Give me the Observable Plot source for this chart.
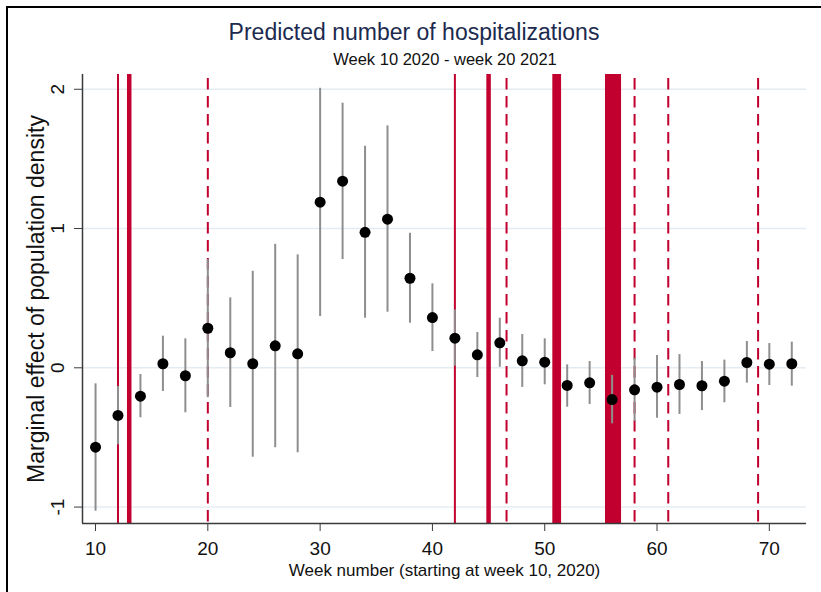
<!DOCTYPE html>
<html>
<head>
<meta charset="utf-8">
<script src="https://cdn.jsdelivr.net/npm/d3@7"></script>
<script src="https://cdn.jsdelivr.net/npm/@observablehq/plot@0.6"></script>
<style>
  html, body { margin: 0; padding: 0; background: #fff; }
  #wrap { position: relative; width: 821px; height: 592px; overflow: hidden; background: #fff;
          font-family: "Liberation Sans", Arial, sans-serif; }
  #border { position: absolute; left: 6px; top: 6px; width: 900px; height: 700px;
            border-left: 2px solid #000; border-top: 2.5px solid #000; box-sizing: border-box; }
  #chart { position: absolute; left: 0; top: 0; }
  .title { position: absolute; white-space: nowrap; line-height: 1; transform: translateX(-50%); }
  #t1 { left: 414px; top: 21px; font-size: 23px; color: #1b2a4e; }
  #t2 { left: 445px; top: 51px; font-size: 16.5px; color: #111; }
</style>
</head>
<body>
<div id="wrap">
  <div id="border"></div>
  <div id="chart"></div>
  <div class="title" id="t1">Predicted number of hospitalizations</div>
  <div class="title" id="t2">Week 10 2020 - week 20 2021</div>
</div>
<script>
// Estimates (week, point estimate, lower CI, upper CI)
const weeks = [10,12,14,16,18,20,22,24,26,28,30,32,34,36,38,40,42,44,46,48,50,52,54,56,58,60,62,64,66,68,70,72];
const estimate = [-0.570,-0.342,-0.204,0.029,-0.057,0.284,0.108,0.029,0.158,0.100,1.189,1.340,0.973,1.067,0.643,0.361,0.213,0.093,0.179,0.050,0.040,-0.127,-0.108,-0.228,-0.158,-0.139,-0.120,-0.129,-0.096,0.038,0.026,0.029];
const lower = [-1.030,-0.553,-0.359,-0.170,-0.323,-0.215,-0.285,-0.642,-0.574,-0.610,0.368,0.777,0.356,0.399,0.320,0.117,0.011,-0.070,0.004,-0.141,-0.122,-0.283,-0.263,-0.402,-0.385,-0.362,-0.335,-0.307,-0.251,-0.110,-0.127,-0.132];
const upper = [-0.115,-0.134,-0.048,0.227,0.208,0.777,0.502,0.693,0.887,0.811,2.007,1.900,1.591,1.737,0.966,0.603,0.416,0.253,0.356,0.239,0.208,0.021,0.045,-0.055,0.069,0.088,0.095,0.045,0.055,0.189,0.174,0.184];

// Vertical reference lines (weeks)
const thinLines = [12, 42];
const thickLines = [13, 45];
const dashedLines = [20, 46.6, 58, 61, 69];
const bandStart = [50.72, 55.41];
const bandEnd = [51.50, 56.84];

// Axes
const xTicks = [10, 20, 30, 40, 50, 60, 70];
const yTicks = [-1, 0, 1, 2];
const xDomain = [8.84, 73.31];
const yDomain = [-1.118, 2.106];

const yLabel = "Marginal effect of population density";
const xLabel = "Week number (starting at week 10, 2020)";

const data = weeks.map((w, i) => ({week: w, est: estimate[i], lo: lower[i], hi: upper[i]}));
const bands = bandStart.map((s, i) => ({from: s, to: bandEnd[i]}));

const red = "#c2002f";
const font = "'Liberation Sans', Arial, sans-serif";

const chart = Plot.plot({
  width: 821,
  height: 592,
  marginTop: 74,
  marginBottom: 69,
  marginLeft: 82,
  marginRight: 15,
  style: {fontFamily: font, background: "transparent", color: "#111"},
  x: {domain: xDomain},
  y: {domain: yDomain},
  marks: [
    Plot.gridY(yTicks, {stroke: "#e4ecf2", strokeOpacity: 1, strokeWidth: 1.5}),
    Plot.rect(bands, {x1: "from", x2: "to", fill: red}),
    Plot.ruleX(thinLines, {stroke: red, strokeWidth: 2}),
    Plot.ruleX(thickLines, {stroke: red, strokeWidth: 4.5}),
    Plot.ruleX(dashedLines, {stroke: red, strokeWidth: 2, strokeDasharray: "11.5,6.5", strokeDashoffset: -4}),
    Plot.ruleX([xDomain[0]], {stroke: "#3a3a3a", strokeWidth: 1.5}),
    Plot.ruleY([yDomain[0]], {stroke: "#3a3a3a", strokeWidth: 1.5}),
    Plot.axisX({ticks: xTicks, tickSize: 8, tickPadding: 10, fontSize: 19, stroke: "#3a3a3a", fill: "#111", label: null}),
    Plot.axisY({ticks: yTicks, tickSize: 8, stroke: "#3a3a3a", fill: "none", label: null}),
    Plot.text(yTicks, {y: d => d, text: d => String(d), frameAnchor: "left", dx: -25, rotate: -90,
      fontSize: 19, textAnchor: "middle", lineAnchor: "middle", fill: "#111"}),
    Plot.text([yLabel], {frameAnchor: "left", dx: -46, rotate: -90, fontSize: 23,
      textAnchor: "middle", lineAnchor: "middle", fill: "#111"}),
    Plot.text([xLabel], {frameAnchor: "bottom", dy: 47, fontSize: 17,
      textAnchor: "middle", lineAnchor: "middle", fill: "#111"}),
    Plot.ruleX(data, {x: "week", y1: "lo", y2: "hi", stroke: "#8e8e8e", strokeWidth: 2}),
    Plot.dot(data, {x: "week", y: "est", r: 5.5, fill: "#000", stroke: "none"})
  ]
});
document.getElementById("chart").appendChild(chart);
</script>
</body>
</html>
